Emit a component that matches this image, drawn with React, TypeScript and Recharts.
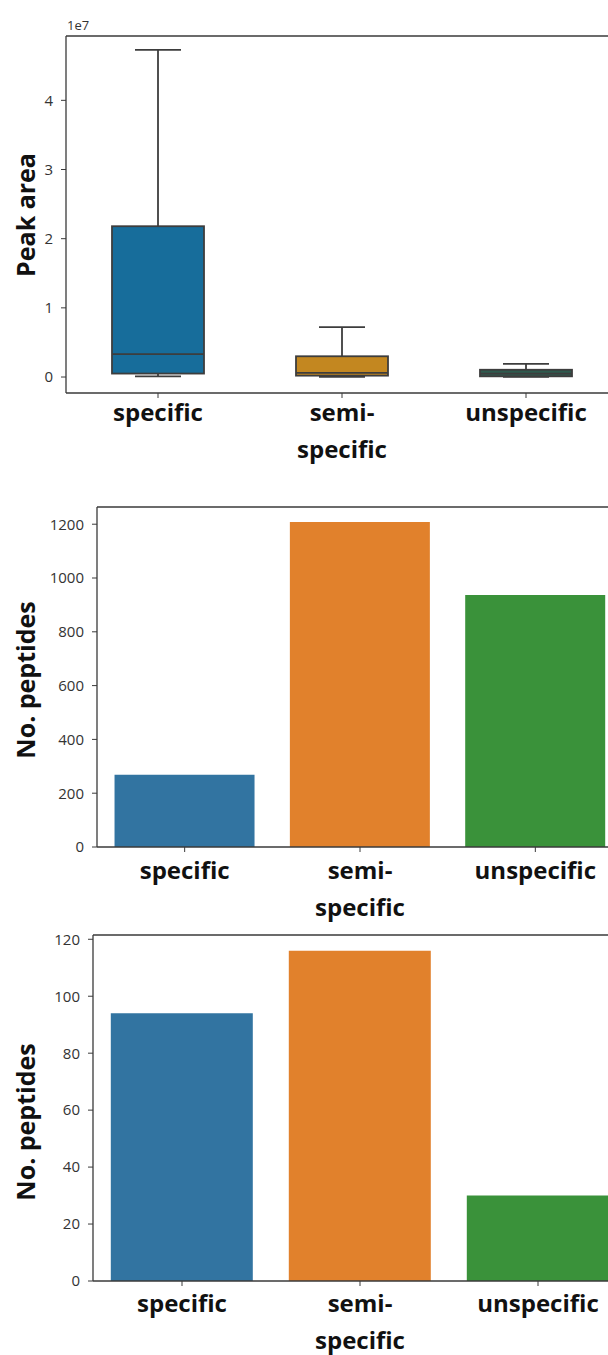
import { BarChart, Bar, XAxis, YAxis, Cell, ReferenceLine } from 'recharts'

const categories = ['specific', 'semi-specific', 'unspecific']

// box plot of peak area (raw units, axis shown in 1e7)
const whiskerLow = [1e5, 2e4, 2e4]
const quartile1 = [5e5, 2e5, 1e5]
const medians = [3.3e6, 6e5, 5e5]
const quartile3 = [2.18e7, 3.0e6, 1.05e6]
const whiskerHigh = [4.73e7, 7.2e6, 1.9e6]
const peakTicks = [0, 1e7, 2e7, 3e7, 4e7]
const peakDomain = [-2.31e6, 4.93e7]

// peptide counts
const peptidesTop = [269, 1208, 937]
const peptidesTopTicks = [0, 200, 400, 600, 800, 1000, 1200]
const peptidesTopDomain = [0, 1264]
const peptidesBottom = [94, 116, 30]
const peptidesBottomTicks = [0, 20, 40, 60, 80, 100, 120]
const peptidesBottomDomain = [0, 121.5]

const boxColors = ['#176d9b', '#c38720', '#2e5a4e']
const barColors = ['#3274a1', '#e1812c', '#3a923a']

const FONT = '"Open Sans", "Noto Sans", sans-serif'
const SPINE = '#3a3a3a'

const boxData = categories.map((name, i) => ({
  name,
  lo: whiskerLow[i],
  q1: quartile1[i],
  med: medians[i],
  q3: quartile3[i],
  hi: whiskerHigh[i],
  range: [whiskerLow[i], whiskerHigh[i]],
}))
const topData = categories.map((name, i) => ({ name, count: peptidesTop[i] }))
const bottomData = categories.map((name, i) => ({ name, count: peptidesBottom[i] }))

function BoxShape(props: any) {
  const { x, y, width, height, payload, index } = props
  const { lo, q1, med, q3, hi } = payload
  const k = height / (hi - lo)
  const py = (v: number) => y + (hi - v) * k
  const cx = x + width / 2
  const cap = width / 4
  return (
    <g stroke="#3d3d3d" strokeWidth={1.8}>
      <line x1={cx} x2={cx} y1={py(hi)} y2={py(q3)} />
      <line x1={cx} x2={cx} y1={py(q1)} y2={py(lo)} />
      <line x1={cx - cap} x2={cx + cap} y1={py(hi)} y2={py(hi)} />
      <line x1={cx - cap} x2={cx + cap} y1={py(lo)} y2={py(lo)} />
      <rect x={x} y={py(q3)} width={width} height={py(q1) - py(q3)} fill={boxColors[index]} />
      <line x1={x} x2={x + width} y1={py(med)} y2={py(med)} />
    </g>
  )
}

function CategoryTick(props: any) {
  const { x, y, payload, first } = props
  const text = String(payload.value)
  const cut = text.indexOf('-')
  const lines = cut >= 0 ? [text.slice(0, cut + 1), text.slice(cut + 1)] : [text]
  return (
    <text x={x} y={y} textAnchor="middle" fontFamily={FONT} fontSize={24} fontWeight={700} fill="#111">
      {lines.map((l, i) => (
        <tspan key={i} x={x} dy={i === 0 ? first : 37}>
          {l}
        </tspan>
      ))}
    </text>
  )
}

function axisTitle(text: string, cy: number, extra?: string) {
  return (p: any) => {
    const vb = p.viewBox
    return (
      <g>
        <text
          x={25}
          y={cy}
          transform={`rotate(-90 25 ${cy})`}
          textAnchor="middle"
          dominantBaseline="central"
          fontFamily={FONT}
          fontSize={25}
          fontWeight={700}
          fill="#111"
        >
          {text}
        </text>
        {extra && (
          <text x={vb.x + vb.width + 1} y={vb.y - 6} fontFamily={FONT} fontSize={13} fill="#333">
            {extra}
          </text>
        )}
      </g>
    )
  }
}

const tickStyle = { fontFamily: FONT, fontSize: 15, fill: '#333' }
const spine = { stroke: SPINE, strokeWidth: 1.3 }

export default function App() {
  return (
    <div
      style={{
        position: 'absolute',
        left: 0,
        top: 0,
        width: 608,
        height: 1355,
        overflow: 'hidden',
        background: '#fff',
      }}
    >
      <div style={{ position: 'absolute', left: 0, top: 0 }}>
        <BarChart
          width={618}
          height={470}
          data={boxData}
          margin={{ top: 36, right: 0, bottom: 0, left: 0 }}
          barCategoryGap="25%"
        >
          <XAxis
            dataKey="name"
            height={77}
            tickSize={5}
            tickMargin={2}
            tickLine={{ stroke: SPINE }}
            axisLine={spine}
            tick={<CategoryTick first={21} />}
          />
          <YAxis
            width={66}
            domain={peakDomain}
            ticks={peakTicks}
            tickFormatter={(v: number) => String(v / 1e7)}
            tickSize={5}
            tickMargin={8}
            tickLine={{ stroke: SPINE }}
            axisLine={spine}
            tick={tickStyle}
            label={{ content: axisTitle('Peak area', 215, '1e7') }}
          />
          <ReferenceLine y={peakDomain[1]} stroke={SPINE} strokeWidth={1.3} />
          <Bar dataKey="range" shape={<BoxShape />} isAnimationActive={false} />
        </BarChart>
      </div>

      <div style={{ position: 'absolute', left: 0, top: 470 }}>
        <BarChart
          width={623}
          height={455}
          data={topData}
          margin={{ top: 37, right: 0, bottom: 0, left: 0 }}
          barCategoryGap="10%"
        >
          <XAxis
            dataKey="name"
            height={78}
            tickSize={5}
            tickMargin={2}
            tickLine={{ stroke: SPINE }}
            axisLine={spine}
            tick={<CategoryTick first={25} />}
          />
          <YAxis
            width={97}
            domain={peptidesTopDomain}
            ticks={peptidesTopTicks}
            tickSize={5}
            tickMargin={8}
            tickLine={{ stroke: SPINE }}
            axisLine={spine}
            tick={tickStyle}
            label={{ content: axisTitle('No. peptides', 210) }}
          />
          <ReferenceLine y={peptidesTopDomain[1]} stroke={SPINE} strokeWidth={1.3} />
          <Bar dataKey="count" isAnimationActive={false}>
            {topData.map((d, i) => (
              <Cell key={d.name} fill={barColors[i]} />
            ))}
          </Bar>
        </BarChart>
      </div>

      <div style={{ position: 'absolute', left: 0, top: 925 }}>
        <BarChart
          width={627}
          height={430}
          data={bottomData}
          margin={{ top: 10, right: 0, bottom: 0, left: 0 }}
          barCategoryGap="10%"
        >
          <XAxis
            dataKey="name"
            height={74}
            tickSize={5}
            tickMargin={2}
            tickLine={{ stroke: SPINE }}
            axisLine={spine}
            tick={<CategoryTick first={24} />}
          />
          <YAxis
            width={93}
            domain={peptidesBottomDomain}
            ticks={peptidesBottomTicks}
            tickSize={5}
            tickMargin={8}
            tickLine={{ stroke: SPINE }}
            axisLine={spine}
            tick={tickStyle}
            label={{ content: axisTitle('No. peptides', 197) }}
          />
          <ReferenceLine y={peptidesBottomDomain[1]} stroke={SPINE} strokeWidth={1.3} />
          <Bar dataKey="count" isAnimationActive={false}>
            {bottomData.map((d, i) => (
              <Cell key={d.name} fill={barColors[i]} />
            ))}
          </Bar>
        </BarChart>
      </div>
    </div>
  )
}
